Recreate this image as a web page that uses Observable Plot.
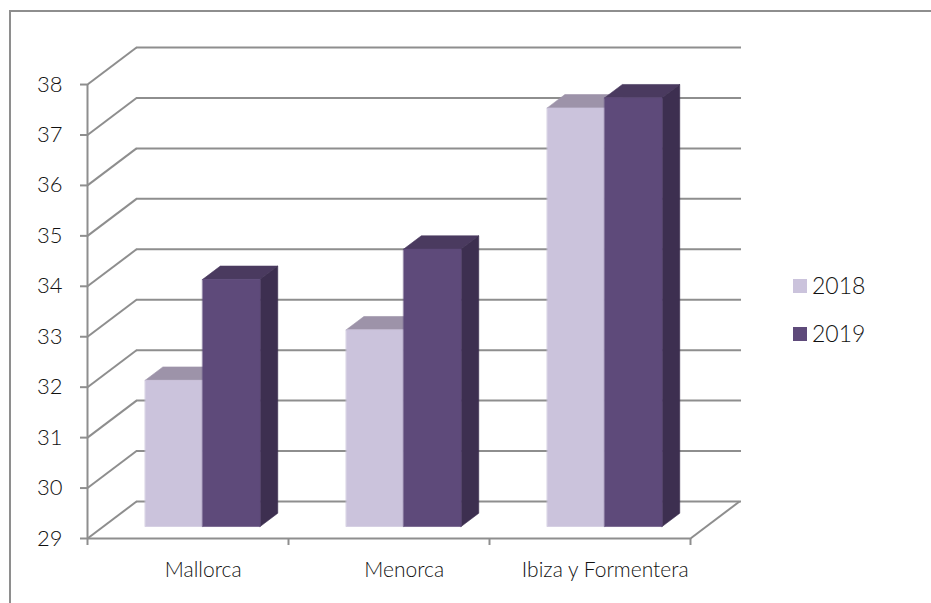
<!DOCTYPE html>
<html>
<head>
<meta charset="utf-8">
<script src="https://cdn.jsdelivr.net/npm/d3@7"></script>
<script src="https://cdn.jsdelivr.net/npm/@observablehq/plot@0.6"></script>
<style>
  html, body { margin: 0; padding: 0; background: #fff; }
  #wrap { position: relative; width: 931px; height: 603px; overflow: hidden; font-family: Lato, "Open Sans", sans-serif; }
  #frame { position: absolute; left: 9px; top: 10px; width: 1200px; height: 1200px; border: 2px solid #8e8e8e; box-sizing: border-box; pointer-events: none; }
  #legend { position: absolute; left: 793px; top: 270px; }
  .item { position: absolute; left: 0; height: 30px; white-space: nowrap; }
  .sw { position: absolute; left: 0; width: 14px; height: 14px; }
  .lab { position: absolute; left: 19px; font-size: 23px; font-weight: 300; color: #111; line-height: 30px; }
</style>
</head>
<body>
<div id="wrap"><div id="chart"></div><div id="frame"></div><div id="legend"></div></div>
<script>
// ---- data ----
const categories = ["Mallorca", "Menorca", "Ibiza y Formentera"];
const seriesNames = ["2018", "2019"];
const values2018 = [31.9, 32.9, 37.3];
const values2019 = [33.9, 34.5, 37.5];
const yTicks = [29, 30, 31, 32, 33, 34, 35, 36, 37, 38];

// ---- styling ----
const frontColors = ["#cbc3dc", "#5e4a7a"];
const topColors = ["#9d93a9", "#4a3a5f"];
const sideColors = ["#a99fb6", "#3d2f50"];
const gridColor = "#8e8e8e";

// ---- layout (pixel geometry of the pseudo-3D box) ----
const xLeftPx = 87, catPx = 201, yBottomPx = 538, unitPx = 50.44;
const depthPx = [49, 37];
const nCat = categories.length;
const yMin = yTicks[0], yMax = yTicks[yTicks.length - 1];
const DX = depthPx[0] / catPx;      // depth offset in x units
const DY = depthPx[1] / unitPx;     // depth offset in y units
const barW = 1 / 3.5, gap = 0.75 * barW;
const f0 = 0.31, f1 = 0.67;         // bar depth (front, back) as fraction of box depth
const proj = (x, y, f) => [x + f * DX, y + f * DY];

const seriesValues = [values2018, values2019];

// faces of each bar as quadrilaterals (two edges each)
const faces = [];
categories.forEach((c, i) => {
  seriesNames.forEach((s, j) => {
    const v = seriesValues[j][i];
    const xL = i + gap + j * barW, xR = xL + barW;
    const add = (id, fill, a, b) => {
      faces.push({id, fill, x1: a[0][0], y1: a[0][1], x2: a[1][0], y2: a[1][1]});
      faces.push({id, fill, x1: b[0][0], y1: b[0][1], x2: b[1][0], y2: b[1][1]});
    };
    const key = c + "-" + s;
    add(key + "-top", topColors[j],
      [proj(xL, v, f0), proj(xR, v, f0)],
      [proj(xL, v, f1), proj(xR, v, f1)]);
    add(key + "-side", sideColors[j],
      [proj(xR, yMin, f0), proj(xR, v, f0)],
      [proj(xR, yMin, f1), proj(xR, v, f1)]);
    add(key + "-front", frontColors[j],
      [proj(xL, yMin, f0), proj(xL, v, f0)],
      [proj(xR, yMin, f0), proj(xR, v, f0)]);
  });
});

const catIdx = d3.range(nCat + 1);

const chart = Plot.plot({
  width: 931,
  height: 603,
  marginLeft: xLeftPx,
  marginTop: 47,
  marginBottom: 65,
  marginRight: 931 - (xLeftPx + (nCat + DX) * catPx),
  x: {type: "linear", domain: [0, nCat + DX], range: [xLeftPx, xLeftPx + (nCat + DX) * catPx], axis: null},
  y: {type: "linear", domain: [yMin, yMax + DY], range: [yBottomPx, yBottomPx - (yMax + DY - yMin) * unitPx], axis: null},
  color: {type: "identity"},
  style: {fontFamily: "Lato, 'Open Sans', sans-serif", background: "transparent", overflow: "visible"},
  marks: [
    Plot.ruleY(yTicks, {y: d => d + DY, x1: () => DX, x2: () => nCat + DX + 0.01, stroke: gridColor, strokeWidth: 2}),
    Plot.link(yTicks, {x1: () => 0, y1: d => d, x2: () => DX, y2: d => d + DY, stroke: gridColor, strokeWidth: 2}),
    Plot.link([yMin], {x1: () => nCat, y1: d => d, x2: () => nCat + DX, y2: d => d + DY, stroke: gridColor, strokeWidth: 2}),
    Plot.ruleY([yMin], {x1: () => 0, x2: () => nCat, stroke: gridColor, strokeWidth: 2}),
    Plot.ruleX([0], {y1: () => yMin, y2: () => yMax, stroke: gridColor, strokeWidth: 2}),
    Plot.ruleY(yTicks, {y: d => d, x1: () => -7 / catPx, x2: () => 0, stroke: gridColor, strokeWidth: 2}),
    Plot.ruleX(catIdx, {x: d => d, y1: () => yMin, y2: () => yMin - 7 / unitPx, stroke: gridColor, strokeWidth: 2}),
    Plot.area(faces, {x1: "x1", y1: "y1", x2: "x2", y2: "y2", z: "id", fill: "fill", stroke: "fill", strokeWidth: 0.6, curve: "linear"}),
    Plot.text(yTicks, {x: () => 0, y: d => d, text: d => String(d), textAnchor: "end", dx: -25, fontSize: 22, fontWeight: 300, fill: "#111"}),
    Plot.text(categories, {x: (d, i) => i + 0.5 + f0 * DX, y: () => yMin, text: d => d, dy: 32, fontSize: 21, fontWeight: 300, fill: "#111"})
  ]
});
document.getElementById("chart").appendChild(chart);

// legend
const legend = document.getElementById("legend");
seriesNames.forEach((s, j) => {
  const item = document.createElement("div");
  item.className = "item";
  item.style.top = (j * 48) + "px";
  const sw = document.createElement("div");
  sw.className = "sw";
  sw.style.background = frontColors[j];
  sw.style.top = "9px";
  const lab = document.createElement("div");
  lab.className = "lab";
  lab.textContent = s;
  item.appendChild(sw);
  item.appendChild(lab);
  legend.appendChild(item);
});
</script>
</body>
</html>
